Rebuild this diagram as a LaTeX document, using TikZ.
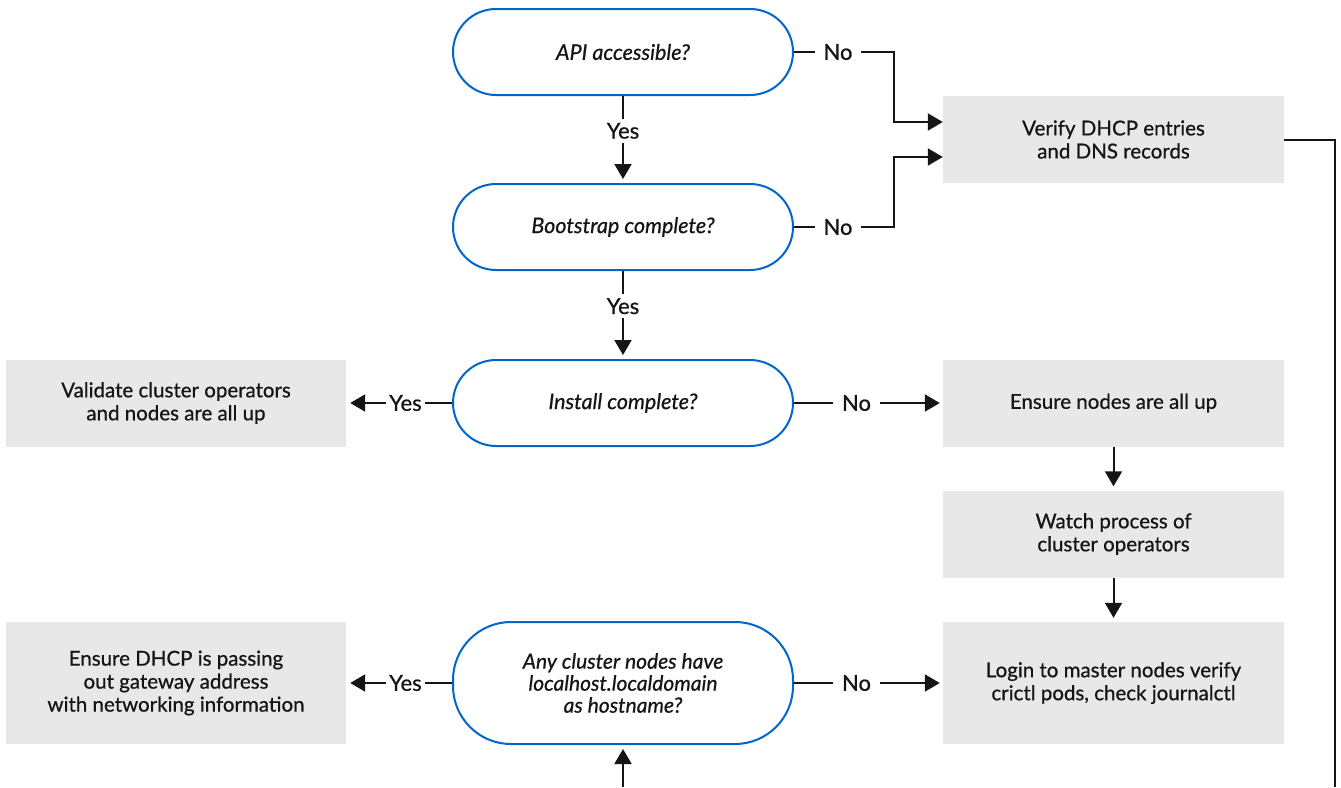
\documentclass[tikz,border=0pt]{standalone}
\usepackage{fontspec}
\setmainfont{Lato}[FakeBold=0.7]
\usetikzlibrary{arrows.meta,calc}
\definecolor{rhblue}{HTML}{0066CC}
\definecolor{boxgray}{HTML}{E8E8E8}
\definecolor{ink}{HTML}{151515}
\begin{document}
\begin{tikzpicture}[x=1pt,y=-1pt,
  decision/.style={draw=rhblue, line width=2pt, fill=white, rounded corners=43pt,
    minimum width=340pt, minimum height=86pt, inner sep=0pt, align=center,
    text=ink, font=\fontsize{21.5}{22}\selectfont\itshape},
  action/.style={fill=boxgray, minimum width=341pt, minimum height=87pt, inner sep=0pt,
    align=center, text=ink, font=\fontsize{20.5}{23}\selectfont},
  conn/.style={line width=2pt, draw=ink, -{Triangle[length=15pt,width=17pt]}, shorten >=4pt},
  plain/.style={line width=2pt, draw=ink},
  lbl/.style={fill=white, text=ink, font=\fontsize{22}{22}\selectfont, inner xsep=9pt, inner ysep=4pt}
]
\useasboundingbox (0,0) rectangle (1341,787);

\node[decision] (api) at (623,52) {API accessible?};
\node[decision] (boot) at (623,227) {Bootstrap complete?};
\node[decision] (inst) at (623,403) {Install complete?};
\node[decision, minimum height=122pt, rounded corners=58pt, font=\fontsize{21}{22}\selectfont\itshape] (host) at (623,683)
  {Any cluster nodes have\\localhost.localdomain\\as hostname?};

\node[action] (verify) at (1113.5,139.5) {Verify DHCP entries\\and DNS records};
\node[action] (ensure) at (1113.5,403) {Ensure nodes are all up};
\node[action] (watch) at (1113.5,534) {Watch process of\\cluster operators};
\node[action, minimum height=122pt] (login) at (1113.5,683) {Login to master nodes verify\\crictl pods, check journalctl};
\node[action, minimum width=340pt] (valid) at (176,403) {Validate cluster operators\\and nodes are all up};
\node[action, minimum width=340pt, minimum height=122pt] (dhcp) at (176,683)
  {Ensure DHCP is passing\\out gateway address\\with networking information};

\draw[conn, shorten >=0pt] (api.east) -- ++(100,0) node[lbl,pos=0.44]{No} |- ([yshift=17.5pt]verify.west);
\draw[conn, shorten >=0pt] (boot.east) -- ++(100,0) node[lbl,pos=0.44]{No} |- ([yshift=-17.5pt]verify.west);
\draw[conn] (api.south) -- node[lbl,pos=0.4]{Yes} (boot.north);
\draw[conn] (boot.south) -- node[lbl,pos=0.4]{Yes} (inst.north);
\draw[conn] (inst.west) -- node[lbl,pos=0.44,inner xsep=3pt]{Yes} (valid.east);
\draw[conn, shorten >=3pt] (inst.east) -- node[lbl,pos=0.42]{No} (ensure.west);
\draw[conn] (ensure.south) -- (watch.north);
\draw[conn] (watch.south) -- (login.north);
\draw[conn] (host.west) -- node[lbl,pos=0.44,inner xsep=3pt]{Yes} (dhcp.east);
\draw[conn, shorten >=3pt] (host.east) -- node[lbl,pos=0.42]{No} (login.west);
\coordinate (loopin) at (623,787);
\draw[conn] (loopin) -- (host.south);
\coordinate (loopout) at (1335,787);
\draw[plain] (verify.east) -- (verify.east -| loopout) -- (loopout);
\end{tikzpicture}
\end{document}
